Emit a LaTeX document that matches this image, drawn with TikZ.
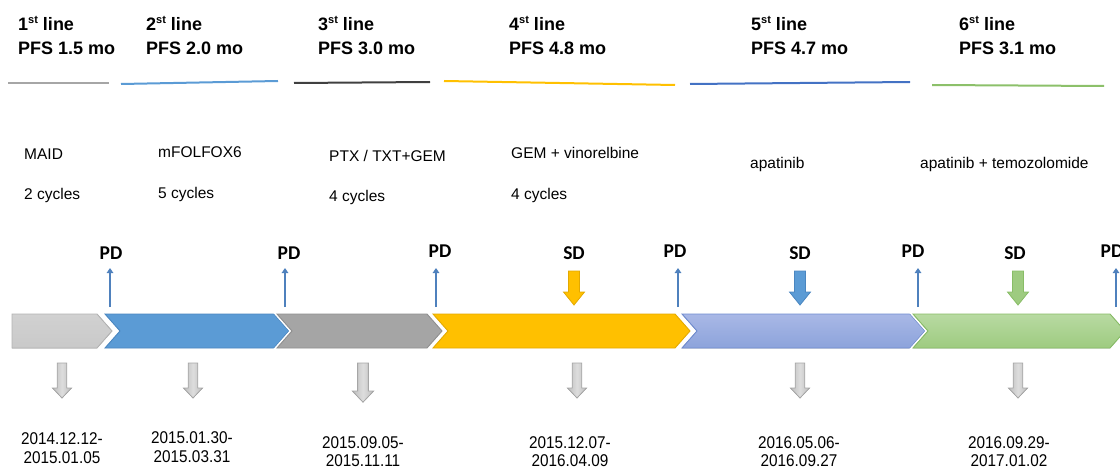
\documentclass[tikz,border=0pt]{standalone}
\usepackage{fontspec}
\setmainfont{Liberation Sans}
\newfontfamily\calfont{Carlito}
\newfontfamily\datefont[FakeStretch=0.9]{Liberation Sans}
\usetikzlibrary{arrows.meta}
\definecolor{cGrayA}{HTML}{C9C9C9}
\definecolor{cGrayAb}{HTML}{B3B3B3}
\definecolor{cBlue}{HTML}{5B9BD5}
\definecolor{cBlueb}{HTML}{4A86C0}
\definecolor{cGrayB}{HTML}{A5A5A5}
\definecolor{cGrayBb}{HTML}{8F8F8F}
\definecolor{cYel}{HTML}{FFC000}
\definecolor{cYelb}{HTML}{E3A900}
\definecolor{cLavT}{HTML}{A9B8E6}
\definecolor{cLavB}{HTML}{8CA3DB}
\definecolor{cLavb}{HTML}{6F8CD0}
\definecolor{cGrnT}{HTML}{B8DAA2}
\definecolor{cGrnB}{HTML}{9ECB80}
\definecolor{cGrnb}{HTML}{88BD66}
\definecolor{cArrow}{HTML}{4F81BD}
\definecolor{cLineGray}{HTML}{A6A6A6}
\definecolor{cLineBlue}{HTML}{5B9BD5}
\definecolor{cLineBlack}{HTML}{404040}
\definecolor{cLineYel}{HTML}{FFC000}
\definecolor{cLineBlue2}{HTML}{4472C4}
\definecolor{cLineGrn}{HTML}{8CC06A}
\definecolor{cDateT}{HTML}{BDBDBD}
\definecolor{cDateM}{HTML}{DDDDDD}
\definecolor{cDateb}{HTML}{A6A6A6}
\newcommand\supst{\raisebox{0.42em}{\fontsize{11}{11}\selectfont st}}
\newcommand\sdarrow[3]{\filldraw[fill=#2,draw=#3,line width=0.8pt,shift={(#1,0)}] (-5.5,271) -- (5.5,271) -- (5.5,292) -- (10.5,292) -- (0,305) -- (-10.5,292) -- (-5.5,292) -- cycle;}
\newcommand\datearrow[2]{\filldraw[left color=cDateT,right color=cDateT,middle color=cDateM,draw=cDateb,line width=0.8pt,shift={(#1,363)},scale=#2] (-4.8,0) -- (4.8,0) -- (4.8,25) -- (9.5,25) -- (0,35) -- (-9.5,25) -- (-4.8,25) -- cycle;}
\begin{document}
\begin{tikzpicture}[x=1pt,y=-1pt,
  hdr/.style={anchor=base west,inner sep=0pt,font=\bfseries\fontsize{18}{20}\selectfont},
  drug/.style={anchor=base west,inner sep=0pt,font=\fontsize{15.5}{18}\selectfont},
  resp/.style={anchor=center,inner sep=0pt,font=\calfont\bfseries\fontsize{19.5}{22}\selectfont},
  datetxt/.style={anchor=center,inner sep=0pt,font=\datefont\fontsize{17}{19}\selectfont},
  hline/.style={line width=2pt},
  uparrow/.style={draw=cArrow,line width=2.2pt,-{Triangle[width=6.5pt,length=5pt]}},
  chev/.style={line width=0.9pt,preaction={draw=white,line width=4pt}}]
\useasboundingbox (0,0) rectangle (1120,468);
\clip (0,0) rectangle (1120,468);
% headers
\node[hdr] (h1a) at (18,31) {1\supst{} line};
\node[hdr] (h1b) at (18,55) {PFS 1.5 mo};
\node[hdr] (h2a) at (146,31) {2\supst{} line};
\node[hdr] (h2b) at (146,55) {PFS 2.0 mo};
\node[hdr] (h3a) at (318,31) {3\supst{} line};
\node[hdr] (h3b) at (318,55) {PFS 3.0 mo};
\node[hdr] (h4a) at (509,31) {4\supst{} line};
\node[hdr] (h4b) at (509,55) {PFS 4.8 mo};
\node[hdr] (h5a) at (751,31) {5\supst{} line};
\node[hdr] (h5b) at (751,55) {PFS 4.7 mo};
\node[hdr] (h6a) at (959,31) {6\supst{} line};
\node[hdr] (h6b) at (959,55) {PFS 3.1 mo};
% header lines
\draw[hline,cLineGray] (8,83) -- (109,83);
\draw[hline,cLineBlue] (121,84) -- (278,81);
\draw[hline,cLineBlack] (294,83) -- (430,82);
\draw[hline,cLineYel] (444,81) -- (675,85);
\draw[hline,cLineBlue2] (690,84) -- (910,82);
\draw[hline,cLineGrn] (932,85) -- (1104,86);
% drugs
\node[drug] (m1a) at (24,159.5) {MAID};
\node[drug] (m1b) at (24,200) {2 cycles};
\node[drug] (m2a) at (158,157.5) {mFOLFOX6};
\node[drug] (m2b) at (158,198.5) {5 cycles};
\node[drug] (m3a) at (329,161.5) {PTX / TXT+GEM};
\node[drug] (m3b) at (329,201.5) {4 cycles};
\node[drug] (m4a) at (511,159) {GEM + vinorelbine};
\node[drug] (m4b) at (511,199.5) {4 cycles};
\node[drug] (m5a) at (750,169) {apatinib};
\node[drug] (m6a) at (920,169) {apatinib + temozolomide};
% responses
\node[resp] (r1) at (111,253) {PD};
\node[resp] (r2) at (289,253) {PD};
\node[resp] (r3) at (440,251) {PD};
\node[resp] (r4) at (574,253) {SD};
\node[resp] (r5) at (675,251) {PD};
\node[resp] (r6) at (800,253) {SD};
\node[resp] (r7) at (913,251) {PD};
\node[resp] (r8) at (1015,253) {SD};
\node[resp] (r9) at (1112,251) {PD};
% PD arrows
\foreach \i/\x in {1/110,2/285,3/436,4/678,5/918,6/1116}{
  \coordinate (ub\i) at (\x,307);
  \coordinate (ut\i) at (\x,268);
  \draw[uparrow] (ub\i) -- (ut\i);
}
% SD arrows
\sdarrow{574}{cYel}{cYelb}
\sdarrow{800}{cBlue}{cBlueb}
\sdarrow{1018}{cGrnB}{cGrnb}
% chevron bar
\filldraw[chev,top color=cGrayA!85!white,bottom color=cGrayA,draw=cGrayAb] (12,314) -- (97,314) -- (112,331) -- (97,348) -- (12,348) -- cycle;
\filldraw[chev,fill=cBlue,draw=cBlueb] (105,314) -- (274,314) -- (289,331) -- (274,348) -- (105,348) -- (120,331) -- cycle;
\filldraw[chev,fill=cGrayB,draw=cGrayBb] (277,314) -- (427,314) -- (442,331) -- (427,348) -- (277,348) -- (292,331) -- cycle;
\filldraw[chev,fill=cYel,draw=cYelb] (433,314) -- (675,314) -- (690,331) -- (675,348) -- (433,348) -- (448,331) -- cycle;
\filldraw[chev,top color=cLavT,bottom color=cLavB,draw=cLavb] (682,314) -- (910,314) -- (925,331) -- (910,348) -- (682,348) -- (697,331) -- cycle;
\filldraw[chev,top color=cGrnT,bottom color=cGrnB,draw=cGrnb] (913,314) -- (1110,314) -- (1125,331) -- (1110,348) -- (913,348) -- (928,331) -- cycle;
% date arrows
\datearrow{62}{1}
\datearrow{193}{1}
\datearrow{363}{1.12}
\datearrow{577}{1}
\datearrow{800}{1}
\datearrow{1018}{1}
% dates
\node[datetxt] (d1a) at (62,439) {2014.12.12-};
\node[datetxt] (d1b) at (62,457.5) {2015.01.05};
\node[datetxt] (d2a) at (192,438) {2015.01.30-};
\node[datetxt] (d2b) at (192,456.5) {2015.03.31};
\node[datetxt] (d3a) at (363,443) {2015.09.05-};
\node[datetxt] (d3b) at (363,460.5) {2015.11.11};
\node[datetxt] (d4a) at (570,443) {2015.12.07-};
\node[datetxt] (d4b) at (570,460.5) {2016.04.09};
\node[datetxt] (d5a) at (799,443) {2016.05.06-};
\node[datetxt] (d5b) at (799,460.5) {2016.09.27};
\node[datetxt] (d6a) at (1009,443) {2016.09.29-};
\node[datetxt] (d6b) at (1009,460.5) {2017.01.02};
\end{tikzpicture}
\end{document}
